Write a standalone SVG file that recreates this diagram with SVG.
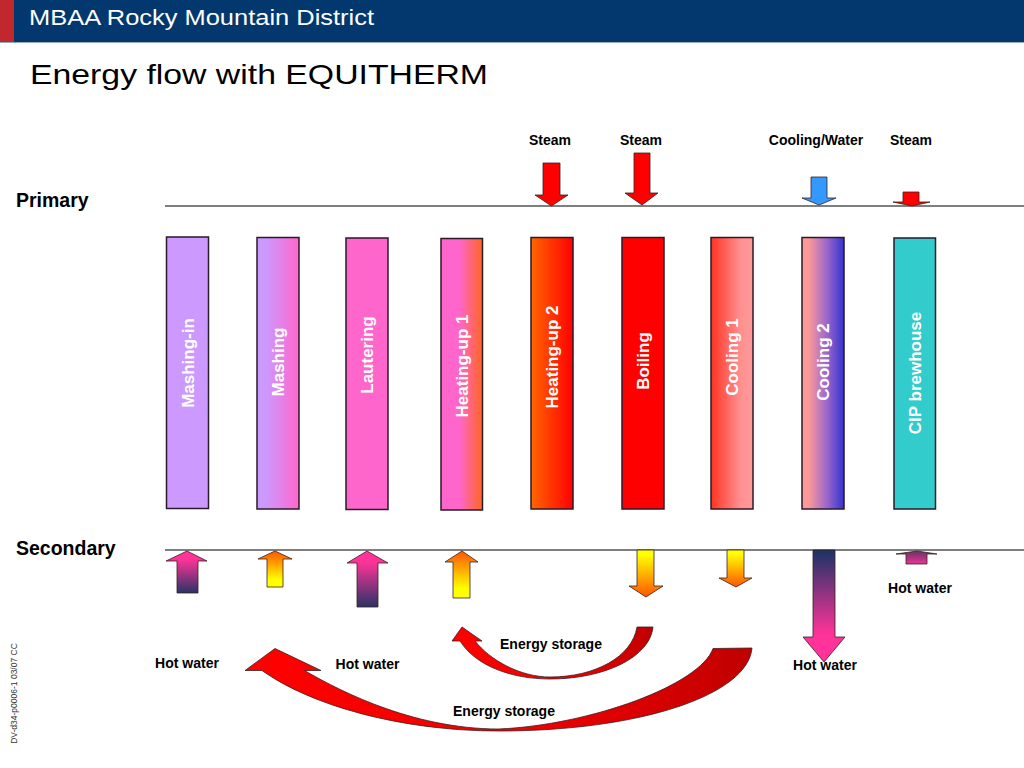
<svg xmlns="http://www.w3.org/2000/svg" width="1024" height="768" viewBox="0 0 1024 768">
<defs>
<style>
.lbl{font-family:"Liberation Sans",Arial,sans-serif;font-weight:bold;font-size:14px;fill:#000}
.side{font-family:"Liberation Sans",Arial,sans-serif;font-weight:bold;font-size:19.5px;fill:#000}
.bar{stroke:#2a1a2a;stroke-width:1.5}
.bt{font-family:"Liberation Sans",Arial,sans-serif;font-weight:bold;font-size:17px;fill:#fff;text-anchor:middle}
.arr{stroke:#3a2020;stroke-width:0.8}
.rule{stroke:#555;stroke-width:1.5}
</style>
<linearGradient id="gMash" x1="0" y1="0" x2="1" y2="0"><stop offset="0.2" stop-color="#cc99ff"/><stop offset="1" stop-color="#ff66cc"/></linearGradient>
<linearGradient id="gHeat1" x1="0" y1="0" x2="1" y2="0"><stop offset="0.45" stop-color="#ff66cc"/><stop offset="1" stop-color="#ff6622"/></linearGradient>
<linearGradient id="gHeat2" x1="0" y1="0" x2="1" y2="0"><stop offset="0" stop-color="#ff6600"/><stop offset="1" stop-color="#ff0000"/></linearGradient>
<linearGradient id="gCool1" x1="0" y1="0" x2="1" y2="0"><stop offset="0" stop-color="#ff3322"/><stop offset="0.7" stop-color="#ff9090"/><stop offset="1" stop-color="#ff9999"/></linearGradient>
<linearGradient id="gCool2" x1="0" y1="0" x2="1" y2="0"><stop offset="0.15" stop-color="#ff9999"/><stop offset="0.6" stop-color="#9966cc"/><stop offset="1" stop-color="#3333cc"/></linearGradient>
<linearGradient id="gPinkNavy" x1="0" y1="0" x2="0" y2="1"><stop offset="0.2" stop-color="#ff3399"/><stop offset="1" stop-color="#2a3366"/></linearGradient>
<linearGradient id="gNavyPink" x1="0" y1="0" x2="0" y2="1"><stop offset="0" stop-color="#1a3366"/><stop offset="0.75" stop-color="#ff3399"/></linearGradient>
<linearGradient id="gSmallH" x1="0" y1="0" x2="0" y2="1"><stop offset="0" stop-color="#663366"/><stop offset="1" stop-color="#ee3399"/></linearGradient>
<linearGradient id="gOrYe" x1="0" y1="0" x2="0" y2="1"><stop offset="0" stop-color="#ff5500"/><stop offset="0.8" stop-color="#ffff00"/></linearGradient>
<linearGradient id="gYeOr" x1="0" y1="0" x2="0" y2="1"><stop offset="0.1" stop-color="#ffff00"/><stop offset="1" stop-color="#ff5500"/></linearGradient>
<linearGradient id="gCurve" x1="0" y1="0" x2="1" y2="0"><stop offset="0" stop-color="#ff0000"/><stop offset="0.6" stop-color="#ee0000"/><stop offset="1" stop-color="#c00000"/></linearGradient>
</defs>
<rect width="1024" height="768" fill="#fff"/>

<g id="header">
<rect x="0" y="0" width="1024" height="42" fill="#02386e"/>
<rect x="0" y="0" width="14" height="42" fill="#c0282d"/>
<line x1="0" y1="42.5" x2="1024" y2="42.5" stroke="#8fa9c6" stroke-width="1"/>
<text x="29" y="25" font-family="Liberation Sans,Arial,sans-serif" font-size="22.5" fill="#fff" textLength="345" lengthAdjust="spacingAndGlyphs">MBAA Rocky Mountain District</text>
<text x="30" y="83.5" font-family="Liberation Sans,Arial,sans-serif" font-size="28.5" fill="#000" textLength="458" lengthAdjust="spacingAndGlyphs">Energy flow with EQUITHERM</text>
</g>

<g id="side-labels">
<text class="side" x="16" y="207">Primary</text>
<text class="side" x="16" y="555">Secondary</text>
<text transform="translate(16.5,693.5) rotate(-90)" font-family="Liberation Sans,Arial,sans-serif" font-size="8.5" fill="#333" text-anchor="middle">DV-d34-p0006-1 03/07 CC</text>
</g>

<g id="rules">
<line class="rule" x1="165" y1="206" x2="1024" y2="206"/>
<line class="rule" x1="165" y1="550" x2="1024" y2="550"/>
</g>

<g id="node-mashing-in"><rect class="bar" x="166.5" y="237" width="42" height="271.5" fill="#cc99ff"/><text class="bt" transform="translate(193.5,363) rotate(-90)">Mashing-in</text></g>
<g id="node-mashing"><rect class="bar" x="257" y="237.5" width="42" height="271.5" fill="url(#gMash)"/><text class="bt" transform="translate(284,362) rotate(-90)">Mashing</text></g>
<g id="node-lautering"><rect class="bar" x="346" y="238" width="42" height="271.5" fill="#ff66cc"/><text class="bt" transform="translate(373,355) rotate(-90)">Lautering</text></g>
<g id="node-heating-up-1"><rect class="bar" x="441" y="238.5" width="41.5" height="271.5" fill="url(#gHeat1)"/><text class="bt" transform="translate(467.5,366) rotate(-90)">Heating-up 1</text></g>
<g id="node-heating-up-2"><rect class="bar" x="531" y="237.5" width="42" height="271.5" fill="url(#gHeat2)"/><text class="bt" transform="translate(558,357) rotate(-90)">Heating-up 2</text></g>
<g id="node-boiling"><rect class="bar" x="622" y="237.5" width="42" height="271.5" fill="#ff0000"/><text class="bt" transform="translate(649,361) rotate(-90)">Boiling</text></g>
<g id="node-cooling-1"><rect class="bar" x="711" y="237.5" width="42" height="271.5" fill="url(#gCool1)"/><text class="bt" transform="translate(737.5,357) rotate(-90)">Cooling 1</text></g>
<g id="node-cooling-2"><rect class="bar" x="802" y="237.5" width="42" height="271.5" fill="url(#gCool2)"/><text class="bt" transform="translate(828.5,362) rotate(-90)">Cooling 2</text></g>
<g id="node-cip-brewhouse"><rect class="bar" x="894" y="238" width="41.5" height="271" fill="#33cccc"/><text class="bt" transform="translate(920.5,373) rotate(-90)">CIP brewhouse</text></g>

<g id="connectors">
<!-- primary inputs -->
<polygon class="arr" fill="#ff0000" points="543,163 560,163 560,195 568,195 551.5,206 535,195 543,195"/>
<polygon class="arr" fill="#ff0000" points="634,153 650,153 650,193 658,193 642,205 625,193 634,193"/>
<polygon class="arr" fill="#3399ff" points="811,177 827,177 827,198 836,198 819,205 802,198 811,198"/>
<polygon class="arr" fill="#ff0000" points="903,192 919,192 919,202 930,202 912,206 893,202 903,202"/>
<!-- secondary up arrows -->
<polygon class="arr" fill="url(#gPinkNavy)" points="187,551 207,561 198,561 198,593 177,593 177,561 166,561"/>
<polygon class="arr" fill="url(#gOrYe)" points="275,551 292,559 283,559 283,587 267,587 267,559 258,559"/>
<polygon class="arr" fill="url(#gPinkNavy)" points="367,551 388,563 378,563 378,607 357,607 357,563 347,563"/>
<polygon class="arr" fill="url(#gOrYe)" points="462,551 478,562 470,562 470,598 453,598 453,562 445,562"/>
<polygon class="arr" fill="url(#gSmallH)" points="917,551 937,554 927,554 927,564 906,564 906,554 896,554"/>
<!-- secondary down arrows -->
<polygon class="arr" fill="url(#gYeOr)" points="637,550 654,550 654,586 663,586 646,597 629,586 637,586"/>
<polygon class="arr" fill="url(#gYeOr)" points="727,550 744,550 744,578 752,578 736,587 719,578 727,578"/>
<polygon class="arr" fill="url(#gNavyPink)" points="813,550 835,550 835,637 845,637 824,662 803,637 813,637"/>
<!-- energy storage curved arrows -->
<path class="arr" fill="url(#gCurve)" d="M653,627 C650,657 605,679 550,679 C510,679 475,665 460,641 L452,641 L462,627 L482,641 L475,641 C490,660 520,677 550,677 C595,677 632,657 637,627 Z"/>
<path class="arr" fill="url(#gCurve)" d="M752,648 C748,695 640,731 499,731 C400,731 310,705 262,670.5 L245,670.5 L275,648.5 L321,670.5 L304.5,670.5 C335,688 410,729 499,729 C590,725 700,685 713,648.5 Z"/>
</g>

<g id="flow-labels">
<text class="lbl" x="550" y="145" text-anchor="middle">Steam</text>
<text class="lbl" x="641" y="145" text-anchor="middle">Steam</text>
<text class="lbl" x="816" y="145" text-anchor="middle">Cooling/Water</text>
<text class="lbl" x="911" y="145" text-anchor="middle">Steam</text>
<text class="lbl" x="920" y="593" text-anchor="middle">Hot water</text>
<text class="lbl" x="825" y="670" text-anchor="middle">Hot water</text>
<text class="lbl" x="187" y="668" text-anchor="middle">Hot water</text>
<text class="lbl" x="367.5" y="669" text-anchor="middle">Hot water</text>
<text class="lbl" x="551" y="649" text-anchor="middle">Energy storage</text>
<text class="lbl" x="504" y="716" text-anchor="middle">Energy storage</text>
</g>
</svg>
